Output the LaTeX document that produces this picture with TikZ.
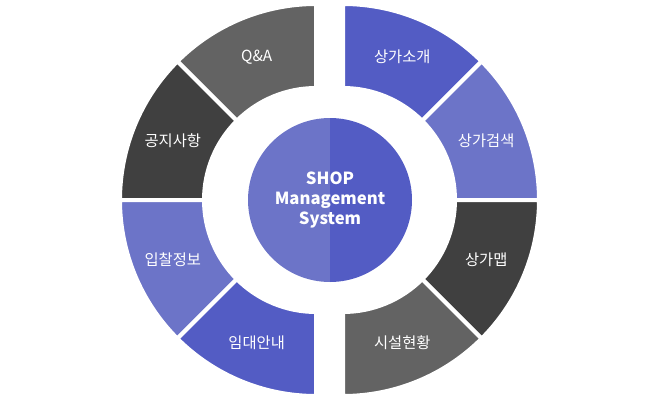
\documentclass[tikz,border=0pt]{standalone}
\usepackage{fontspec}
\setmainfont{Noto Sans CJK KR}
\usepackage{tikz}
\usetikzlibrary{calc, positioning}
\definecolor{shopblue}{RGB}{83,92,196}
\definecolor{shoplight}{RGB}{108,116,200}
\definecolor{shopdark}{RGB}{64,64,64}
\definecolor{shopgray}{RGB}{99,99,99}
% #1 center x, #2 start angle, #3 end angle, #4 colour, #5 name, #6 text
\newcommand\ringpart[6]{\fill[fill=#4, draw=white, line width=3pt] ($(#1,-200)+(#2:196)$) arc[start angle=#2, end angle=#3, radius=196] -- ($(#1,-200)+(#3:112)$) arc[start angle=#3, end angle=#2, radius=112] -- cycle;\node[ringtext] (#5) at ($(#1,-200)+({(#2+#3)/2}:155)$) {#6};}

\begin{document}
\begin{tikzpicture}[x=0.75pt, y=0.75pt, ringtext/.style={text=white, font=\fontsize{11.5}{13}\selectfont}]
\useasboundingbox (0,0) rectangle (657,-400);
\ringpart{343}{90}{45}{shopblue}{intro}{상가소개}
\ringpart{343}{45}{0}{shoplight}{search}{상가검색}
\ringpart{343}{0}{-45}{shopdark}{map}{상가맵}
\ringpart{343}{-45}{-90}{shopgray}{facility}{시설현황}
\ringpart{316}{90}{135}{shopgray}{qna}{Q\&A}
\ringpart{316}{135}{180}{shopdark}{notice}{공지사항}
\ringpart{316}{180}{225}{shoplight}{bid}{입찰정보}
\ringpart{316}{225}{270}{shopblue}{lease}{임대안내}

\fill[shoplight] (330,-118) arc[start angle=90, end angle=270, radius=82] -- cycle;
\fill[shopblue] (330,-118) arc[start angle=90, end angle=-90, radius=82] -- cycle;
\node[text=white, font=\fontsize{12.5}{15}\selectfont\bfseries, align=center] (center) at (330,-200) {SHOP\\Management\\System};
\end{tikzpicture}
\end{document}
